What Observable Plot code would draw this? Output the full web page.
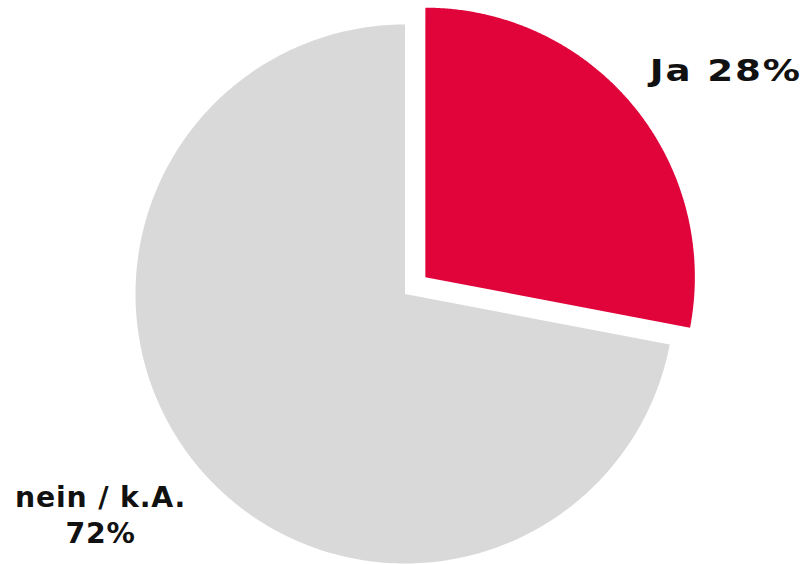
<!DOCTYPE html>
<html>
<head>
<meta charset="utf-8">
<script src="https://cdn.jsdelivr.net/npm/d3@7"></script>
<script src="https://cdn.jsdelivr.net/npm/@observablehq/plot@0.6"></script>
<style>
  html, body { margin: 0; padding: 0; background: #ffffff; }
  #chart svg { display: block; }
</style>
</head>
<body>
<div id="chart"></div>
<script>
// ---- data ----
const categories = ["Ja", "nein / k.A."];
const values = [28, 72];
const labels = ["Ja 28%", "nein / k.A.\n72%"];
const explodedCategory = "Ja";
const colors = ["#E0043A", "#D9D9D9"];

// ---- geometry (unit circle, radius 1) ----
const W = 807, H = 564;
const radiusPx = 269.5, centerX = 404.5, centerY = 293.5;
const explode = 0.098;     // explode distance in radius units
const labelRadius = 1.37;

const pie = d3.pie().sort(null).value(d => d.value);
const arcs = pie(categories.map((c, i) => ({category: c, value: values[i], label: labels[i]})));

const slicePoints = [];
const labelData = [];
arcs.forEach(a => {
  const c = a.data.category;
  const mid = (a.startAngle + a.endAngle) / 2;
  const off = c === explodedCategory ? explode : 0;
  const ox = off * Math.sin(mid), oy = off * Math.cos(mid);
  slicePoints.push({category: c, x: ox, y: oy});
  const n = 300;
  for (let k = 0; k <= n; k++) {
    const t = a.startAngle + (a.endAngle - a.startAngle) * k / n;
    slicePoints.push({category: c, x: ox + Math.sin(t), y: oy + Math.cos(t)});
  }
  labelData.push({
    category: c,
    label: a.data.label,
    x: ox + labelRadius * Math.sin(mid),
    y: oy + labelRadius * Math.cos(mid)
  });
});

const chart = Plot.plot({
  width: W,
  height: H,
  margin: 0,
  style: {background: "#ffffff"},
  x: {domain: [-centerX / radiusPx, (W - centerX) / radiusPx], axis: null},
  y: {domain: [-(H - centerY) / radiusPx, centerY / radiusPx], axis: null},
  color: {domain: categories, range: colors},
  marks: [
    Plot.line(slicePoints, {
      x: "x", y: "y", z: "category",
      fill: "category", stroke: "none",
      curve: "linear-closed"
    }),
    Plot.text(labelData.filter(d => d.category === "Ja"), {
      x: "x", y: "y", text: "label",
      fontSize: 30, fontWeight: "bold", fontFamily: "DejaVu Sans",
      fill: "#111111", dx: 16, dy: 30
    }),
    Plot.text(labelData.filter(d => d.category !== "Ja"), {
      x: "x", y: "y", text: "label",
      fontSize: 27.5, fontWeight: "bold", fontFamily: "DejaVu Sans",
      lineHeight: 1.33,
      fill: "#111111", dx: -20, dy: -16
    })
  ]
});

// widen the label lettering a little to match the reference typeface
d3.select(chart).selectAll("text").each(function() {
  const el = d3.select(this);
  const isJa = this.textContent.startsWith("Ja");
  const sx = isJa ? 1.24 : 1.03;
  const ls = isJa ? 1.5 : 0.8;
  el.attr("letter-spacing", ls);
  if (sx !== 1) {
    const tr = el.attr("transform");
    if (tr) {
      el.attr("transform", tr + ` scale(${sx},1)`);
    } else {
      const x = +el.attr("x") || 0, y = +el.attr("y") || 0;
      el.attr("x", null).attr("y", null)
        .attr("transform", `translate(${x},${y}) scale(${sx},1)`);
    }
  }
});

document.getElementById("chart").appendChild(chart);
</script>
</body>
</html>
